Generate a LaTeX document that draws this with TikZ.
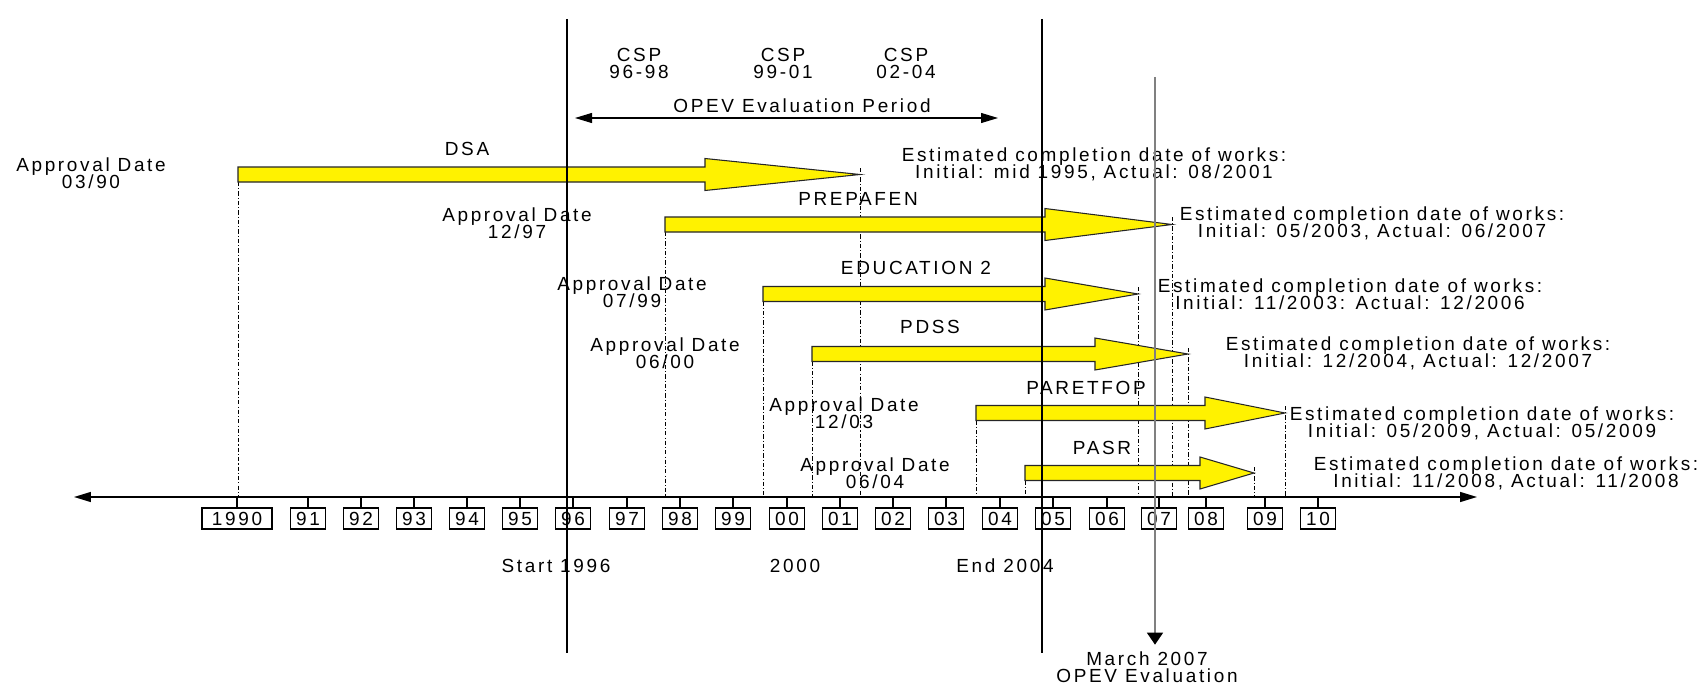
\documentclass[tikz,border=0pt]{standalone}
\usepackage{fontspec}
\setmainfont{Liberation Sans}[LetterSpace=14]
\usetikzlibrary{arrows.meta}
\newcommand{\figfont}{\fontsize{10.8}{9.7}\selectfont\lineskiplimit=-10pt}
% yellow bar: start x, head x, tip x, centre y
\newcommand{\workbar}[4]{%
  \draw[workbar] (#1,#4-7.5) -- (#2,#4-7.5) -- (#2,#4-16) -- (#3,#4)
    -- (#2,#4+16) -- (#2,#4+7.5) -- (#1,#4+7.5) -- cycle;}

\begin{document}
\begin{tikzpicture}[x=0.02cm,y=-0.02cm,
  every node/.style={font=\figfont,inner sep=0pt,align=center},
  yearbox/.style={draw,line width=0.6pt,fill=white,minimum width=0.7cm,minimum height=0.42cm},
  guide/.style={line width=0.5pt,dash pattern=on 2.4pt off 1.2pt on 0.6pt off 1.2pt},
  workbar/.style={fill=yellow,draw=black!85,line width=0.6pt},
  mainline/.style={line width=1.1pt},
  >={Triangle[length=0.34cm,width=0.2cm]}]
\useasboundingbox[fill=white] (0,0) rectangle (1700,686);

% time axis
\coordinate (axL) at (74,497);
\coordinate (axR) at (1477,497);
\draw[<->,line width=0.8pt] (axL) -- (axR);

% year boxes
\node[yearbox,minimum width=1.4cm] (y90) at (237,518.5) {1990};
\node[yearbox] (y91) at (308,518.5) {91};
\node[yearbox] (y92) at (361,518.5) {92};
\node[yearbox] (y93) at (414,518.5) {93};
\node[yearbox] (y94) at (467,518.5) {94};
\node[yearbox] (y95) at (520,518.5) {95};
\node[yearbox] (y96) at (573,518.5) {96};
\node[yearbox] (y97) at (627,518.5) {97};
\node[yearbox] (y98) at (680,518.5) {98};
\node[yearbox] (y99) at (733,518.5) {99};
\node[yearbox] (y00) at (787,518.5) {00};
\node[yearbox] (y01) at (840,518.5) {01};
\node[yearbox] (y02) at (893,518.5) {02};
\node[yearbox] (y03) at (946,518.5) {03};
\node[yearbox] (y04) at (1000,518.5) {04};
\node[yearbox] (y05) at (1053,518.5) {05};
\node[yearbox] (y06) at (1107,518.5) {06};
\node[yearbox] (y07) at (1159,518.5) {07};
\node[yearbox] (y08) at (1206,518.5) {08};
\node[yearbox] (y09) at (1265,518.5) {09};
\node[yearbox] (y10) at (1318,518.5) {10};
\draw[line width=0.6pt] (y90.north) -- (y90.north |- axL);
\draw[line width=0.6pt] (y91.north) -- (y91.north |- axL);
\draw[line width=0.6pt] (y92.north) -- (y92.north |- axL);
\draw[line width=0.6pt] (y93.north) -- (y93.north |- axL);
\draw[line width=0.6pt] (y94.north) -- (y94.north |- axL);
\draw[line width=0.6pt] (y95.north) -- (y95.north |- axL);
\draw[line width=0.6pt] (y96.north) -- (y96.north |- axL);
\draw[line width=0.6pt] (y97.north) -- (y97.north |- axL);
\draw[line width=0.6pt] (y98.north) -- (y98.north |- axL);
\draw[line width=0.6pt] (y99.north) -- (y99.north |- axL);
\draw[line width=0.6pt] (y00.north) -- (y00.north |- axL);
\draw[line width=0.6pt] (y01.north) -- (y01.north |- axL);
\draw[line width=0.6pt] (y02.north) -- (y02.north |- axL);
\draw[line width=0.6pt] (y03.north) -- (y03.north |- axL);
\draw[line width=0.6pt] (y04.north) -- (y04.north |- axL);
\draw[line width=0.6pt] (y05.north) -- (y05.north |- axL);
\draw[line width=0.6pt] (y06.north) -- (y06.north |- axL);
\draw[line width=0.6pt] (y07.north) -- (y07.north |- axL);
\draw[line width=0.6pt] (y08.north) -- (y08.north |- axL);
\draw[line width=0.6pt] (y09.north) -- (y09.north |- axL);
\draw[line width=0.6pt] (y10.north) -- (y10.north |- axL);

% dash-dot guides from bar ends down to the axis
\coordinate (dsaS) at (238,182);
\coordinate (dsaT) at (860,168);
\coordinate (prepS) at (665,232);
\coordinate (prepT) at (1172,217);
\coordinate (eduS) at (763,301.5);
\coordinate (eduT) at (1138,287);
\coordinate (pdssS) at (812,361.5);
\coordinate (pdssT) at (1188,348);
\coordinate (parS) at (976,420.5);
\coordinate (parT) at (1285,406);
\coordinate (pasrS) at (1025,480.5);
\coordinate (pasrT) at (1254,467);
\draw[guide] (dsaS) -- (dsaS |- axL);
\draw[guide] (dsaT) -- (dsaT |- axL);
\draw[guide] (prepS) -- (prepS |- axL);
\draw[guide] (prepT) -- (prepT |- axL);
\draw[guide] (eduS) -- (eduS |- axL);
\draw[guide] (eduT) -- (eduT |- axL);
\draw[guide] (pdssS) -- (pdssS |- axL);
\draw[guide] (pdssT) -- (pdssT |- axL);
\draw[guide] (parS) -- (parS |- axL);
\draw[guide] (parT) -- (parT |- axL);
\draw[guide] (pasrS) -- (pasrS |- axL);
\draw[guide] (pasrT) -- (pasrT |- axL);

% project bars
\workbar{238}{705}{860}{174.5}
\workbar{665}{1045}{1172}{224.5}
\workbar{763}{1045}{1138}{294}
\workbar{812}{1095}{1188}{354}
\workbar{976}{1205}{1285}{413}
\workbar{1025}{1200}{1254}{473}

% start / end of evaluation period
\coordinate (startTop) at (567,19);
\coordinate (startBot) at (567,653);
\coordinate (endTop) at (1042,19);
\coordinate (endBot) at (1042,653);
\draw[mainline] (startTop) -- (startBot);
\draw[mainline] (endTop) -- (endBot);

% CSP periods
\node (csp1) at (639,63.5) {CSP\\96-98};
\node (csp2) at (783,63.5) {CSP\\99-01};
\node (csp3) at (906,63.5) {CSP\\02-04};
\node (period) at (802,106) {OPEV Evaluation Period};
\coordinate (perL) at (575,118);
\coordinate (perR) at (998,118);
\draw[<->,line width=0.6pt] (perL) -- (perR);

% project names
\node (dsa) at (467,149) {DSA};
\node (prepafen) at (858,199) {PREPAFEN};
\node (edu) at (916,268) {EDUCATION 2};
\node (pdss) at (930,327) {PDSS};
\node (paretfop) at (1086,388) {PARETFOP};
\node (pasr) at (1102,448) {PASR};

% approval dates
\node (apv90) at (91,173.5) {Approval Date\\03/90};
\node (apv97) at (517,223.5) {Approval Date\\12/97};
\node (apv99) at (632,292.5) {Approval Date\\07/99};
\node (apv00) at (665,353.5) {Approval Date\\06/00};
\node (apv03) at (844,413.5) {Approval Date\\12/03};
\node (apv04) at (875,473) {Approval Date\\06/04};

% completion dates
\node (estDSA) at (1094,164.5) {Estimated completion date of works:\\Initial: mid 1995, Actual: 08/2001};
\node (estPrep) at (1372,223) {Estimated completion date of works:\\Initial: 05/2003, Actual: 06/2007};
\node (estEdu) at (1350,294) {Estimated completion date of works:\\Initial: 11/2003: Actual: 12/2006};
\node (estPdss) at (1418,353.5) {Estimated completion date of works:\\Initial: 12/2004, Actual: 12/2007};
\node (estPar) at (1482,423.5) {Estimated completion date of works:\\Initial: 05/2009, Actual: 05/2009};
\node (estPasr) at (1506,473.5) {Estimated completion date of works:\\Initial: 11/2008, Actual: 11/2008};

% bottom labels
\node (start) at (556,566) {Start 1996};
\node (mid) at (795,566) {2000};
\node (end) at (1005,566) {End 2004};
\node (eval) at (1147,667.5) {March 2007\\OPEV Evaluation};
\coordinate (evalTop) at (1155,77);
\draw[gray,line width=0.9pt,-{Triangle[length=0.24cm,width=0.32cm,color=black]},shorten >=0.14cm]
  (evalTop) -- (evalTop |- eval.north);
\end{tikzpicture}
\end{document}
